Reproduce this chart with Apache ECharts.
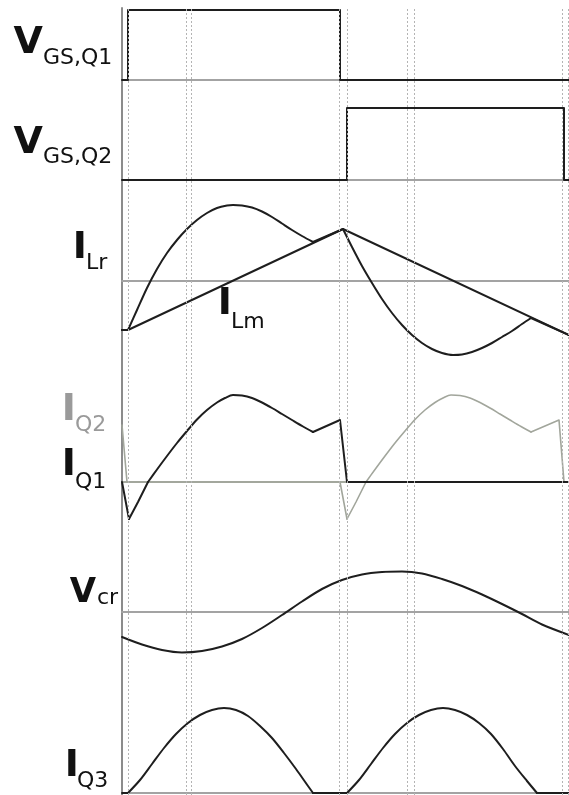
<!DOCTYPE html>
<html>
<head>
<meta charset="utf-8">
<script src="https://cdn.jsdelivr.net/npm/echarts@6/dist/echarts.min.js"></script>
<style>
html,body{margin:0;padding:0;background:#fff;}
#c{width:569px;height:795px;}
</style>
</head>
<body>
<div id="c"></div>
<script>
// time axis units (arbitrary), 0..447
const tMax = 447;
// dotted time markers
const markerTimes = [6, 64, 69, 217, 225, 285, 292, 440, 446];

// gate drive Q1 (normalised)
const vgs1T = [0, 6, 6, 218, 218, 447];
const vgs1V = [0, 0, 1, 1, 0, 0];
// gate drive Q2
const vgs2T = [0, 225, 225, 442, 442, 447];
const vgs2V = [0, 0, 1, 1, 0, 0];

// resonant current I_Lr
const ilrT = [0, 6, 15, 25, 35, 45, 55, 65, 75, 85, 95, 105, 111, 120, 130, 140, 150, 160, 170, 180, 191,
              221, 230, 240, 250, 260, 270, 280, 290, 300, 310, 320, 331, 340, 350, 360, 370, 380, 390, 400, 409, 447];
const ilrV = [-0.49, -0.49, -0.29, -0.07, 0.12, 0.28, 0.41, 0.52, 0.61, 0.68, 0.73, 0.755, 0.76, 0.755, 0.735, 0.695, 0.64, 0.575, 0.51, 0.45, 0.39,
              0.52, 0.34, 0.15, -0.02, -0.18, -0.32, -0.44, -0.54, -0.62, -0.68, -0.72, -0.74, -0.735, -0.71, -0.67, -0.62, -0.56, -0.50, -0.43, -0.37, -0.54];
// magnetising current I_Lm
const ilmT = [0, 6, 221, 447];
const ilmV = [-0.49, -0.49, 0.52, -0.54];

// switch currents
const iq1T = [0, 7, 16, 26, 35, 45, 55, 65, 75, 85, 95, 103, 111, 120, 130, 140, 150, 160, 170, 181, 191, 218, 225, 447];
const iq1V = [0, -0.37, -0.20, 0, 0.125, 0.26, 0.39, 0.51, 0.625, 0.72, 0.795, 0.84, 0.87, 0.865, 0.84, 0.795, 0.74, 0.68, 0.62, 0.555, 0.50, 0.62, 0, 0];
const iq2T = [0, 5, 218, 225, 234, 244, 253, 263, 273, 283, 293, 303, 313, 321, 329, 338, 348, 358, 368, 378, 388, 399, 409, 437, 442, 447];
const iq2V = [0.57, 0, 0, -0.37, -0.20, 0, 0.125, 0.26, 0.39, 0.51, 0.625, 0.72, 0.795, 0.84, 0.87, 0.865, 0.84, 0.795, 0.74, 0.68, 0.62, 0.555, 0.50, 0.62, 0, 0];

// resonant capacitor voltage
const vcrT = [0, 20, 40, 60, 80, 100, 120, 140, 160, 180, 200, 220, 240, 260, 280, 300, 320, 340, 360, 380, 400, 420, 447];
const vcrV = [-0.25, -0.325, -0.38, -0.405, -0.39, -0.345, -0.27, -0.16, -0.03, 0.105, 0.23, 0.32, 0.375, 0.40, 0.405, 0.385, 0.33, 0.26, 0.175, 0.08, -0.02, -0.125, -0.23];

// rectifier current I_Q3
const iq3T = [0, 6, 18, 30, 42, 54, 66, 78, 90, 102, 114, 126, 138, 150, 162, 174, 186, 191,
              225, 237, 249, 261, 273, 285, 297, 309, 321, 333, 345, 357, 369, 381, 393, 405, 415, 447];
const iq3V = [0, 0, 0.13, 0.29, 0.45, 0.59, 0.70, 0.78, 0.83, 0.85, 0.83, 0.77, 0.67, 0.55, 0.40, 0.24, 0.07, 0,
              0, 0.13, 0.29, 0.45, 0.59, 0.70, 0.78, 0.83, 0.85, 0.83, 0.78, 0.70, 0.59, 0.44, 0.27, 0.12, 0, 0];

function pairs(t, v) { return t.map((x, i) => [x, v[i]]); }

const dark = '#1e1e1e';
const base = '#a3a3a3';
const grey = '#a2a69c';

const panels = [
  { top: 8, height: 787, min: 0, max: 1 },      // background (axis + markers)
  { top: 10, height: 70, min: 0, max: 1 },      // VGS,Q1
  { top: 108, height: 72, min: 0, max: 1 },     // VGS,Q2
  { top: 181, height: 200, min: -1, max: 1 },   // ILr / ILm
  { top: 382, height: 200, min: -1, max: 1 },   // IQ1 / IQ2
  { top: 512, height: 200, min: -1, max: 1 },   // Vcr
  { top: 693, height: 100, min: 0, max: 1 }     // IQ3
];

const grid = panels.map(p => ({ left: 122, right: 0, top: p.top, height: p.height, containLabel: false }));
const xAxis = panels.map((p, i) => ({
  type: 'value', gridIndex: i, min: 0, max: tMax,
  axisLabel: { show: false }, axisTick: { show: false }, splitLine: { show: false },
  axisLine: { show: i > 0, onZero: true, lineStyle: { color: i === 4 ? '#a6aba0' : base, width: 2 } }
}));
const yAxis = panels.map((p, i) => ({
  type: 'value', gridIndex: i, min: p.min, max: p.max,
  axisLabel: { show: false }, axisTick: { show: false }, splitLine: { show: false },
  axisLine: { show: i === 0, lineStyle: { color: '#8c8c8c', width: 2 } }
}));

function line(idx, data, color, width, z, smooth) {
  return {
    type: 'line', xAxisIndex: idx, yAxisIndex: idx, data: data,
    showSymbol: false, symbol: 'none', smooth: smooth || false, animation: false,
    lineStyle: { color: color, width: width, join: 'round', cap: 'round' }, z: z || 3
  };
}
// draw a series in pieces: each piece [from, to, smooth] of array indices
function pieces(idx, t, v, parts, color, width, z) {
  return parts.map(p => line(idx, pairs(t.slice(p[0], p[1] + 1), v.slice(p[0], p[1] + 1)), color, width, z, p[2] ? 0.3 : false));
}

const series = [
  {
    type: 'line', xAxisIndex: 0, yAxisIndex: 0, data: [], animation: false, z: 1,
    markLine: {
      silent: true, symbol: ['none', 'none'], animation: false,
      label: { show: false },
      lineStyle: { color: '#b4b4b4', width: 1, type: [2, 2] },
      data: markerTimes.map(t => ({ xAxis: t }))
    }
  },
  line(1, pairs(vgs1T, vgs1V), dark, 2),
  line(2, pairs(vgs2T, vgs2V), dark, 2),
  line(3, pairs(ilmT, ilmV), dark, 2)
].concat(
  pieces(3, ilrT, ilrV, [[0, 1, 0], [1, 20, 1], [20, 21, 0], [21, 40, 1], [40, 41, 0]], dark, 2, 4),
  pieces(4, iq2T, iq2V, [[0, 3, 0], [3, 5, 0], [5, 22, 1], [22, 25, 0]], grey, 1.6, 3),
  pieces(4, iq1T, iq1V, [[0, 1, 0], [1, 3, 0], [3, 20, 1], [20, 23, 0]], dark, 2, 4),
  [line(5, pairs(vcrT, vcrV), dark, 2, 3, 0.3)],
  pieces(6, iq3T, iq3V, [[0, 1, 0], [1, 17, 1], [17, 18, 0], [18, 34, 1], [34, 35, 0]], dark, 2, 3)
);

const big = 'bold 38px "DejaVu Sans"';
const mid = 'bold 34px "DejaVu Sans"';
const sub = '22px "DejaVu Sans"';
function txt(text, x, y, font, align, color) {
  return { type: 'text', z: 10, silent: true,
    style: { text: text, x: x, y: y, font: font, fill: color || '#111', align: align, verticalAlign: 'middle' } };
}

const graphic = [
  txt('V', 43, 43, big, 'right'), txt('GS,Q1', 43, 58, sub, 'left'),
  txt('V', 43, 143, big, 'right'), txt('GS,Q2', 43, 157, sub, 'left'),
  txt('I', 87, 248, big, 'right'), txt('Lr', 86, 263, sub, 'left'),
  txt('I', 232, 304, big, 'right'), txt('Lm', 231, 322, sub, 'left'),
  txt('I', 76, 410, big, 'right', '#9a9a9a'), txt('Q2', 75, 425, sub, 'left', '#9a9a9a'),
  txt('I', 76, 465, big, 'right'), txt('Q1', 75, 482, sub, 'left'),
  txt('V', 96, 593, mid, 'right'), txt('cr', 97, 598, sub, 'left'),
  txt('I', 79, 766, big, 'right'), txt('Q3', 77, 781, sub, 'left')
];

const chart = echarts.init(document.getElementById('c'), null, { renderer: 'canvas' });
chart.setOption({ animation: false, backgroundColor: '#fff', grid, xAxis, yAxis, series, graphic });
</script>
</body>
</html>
